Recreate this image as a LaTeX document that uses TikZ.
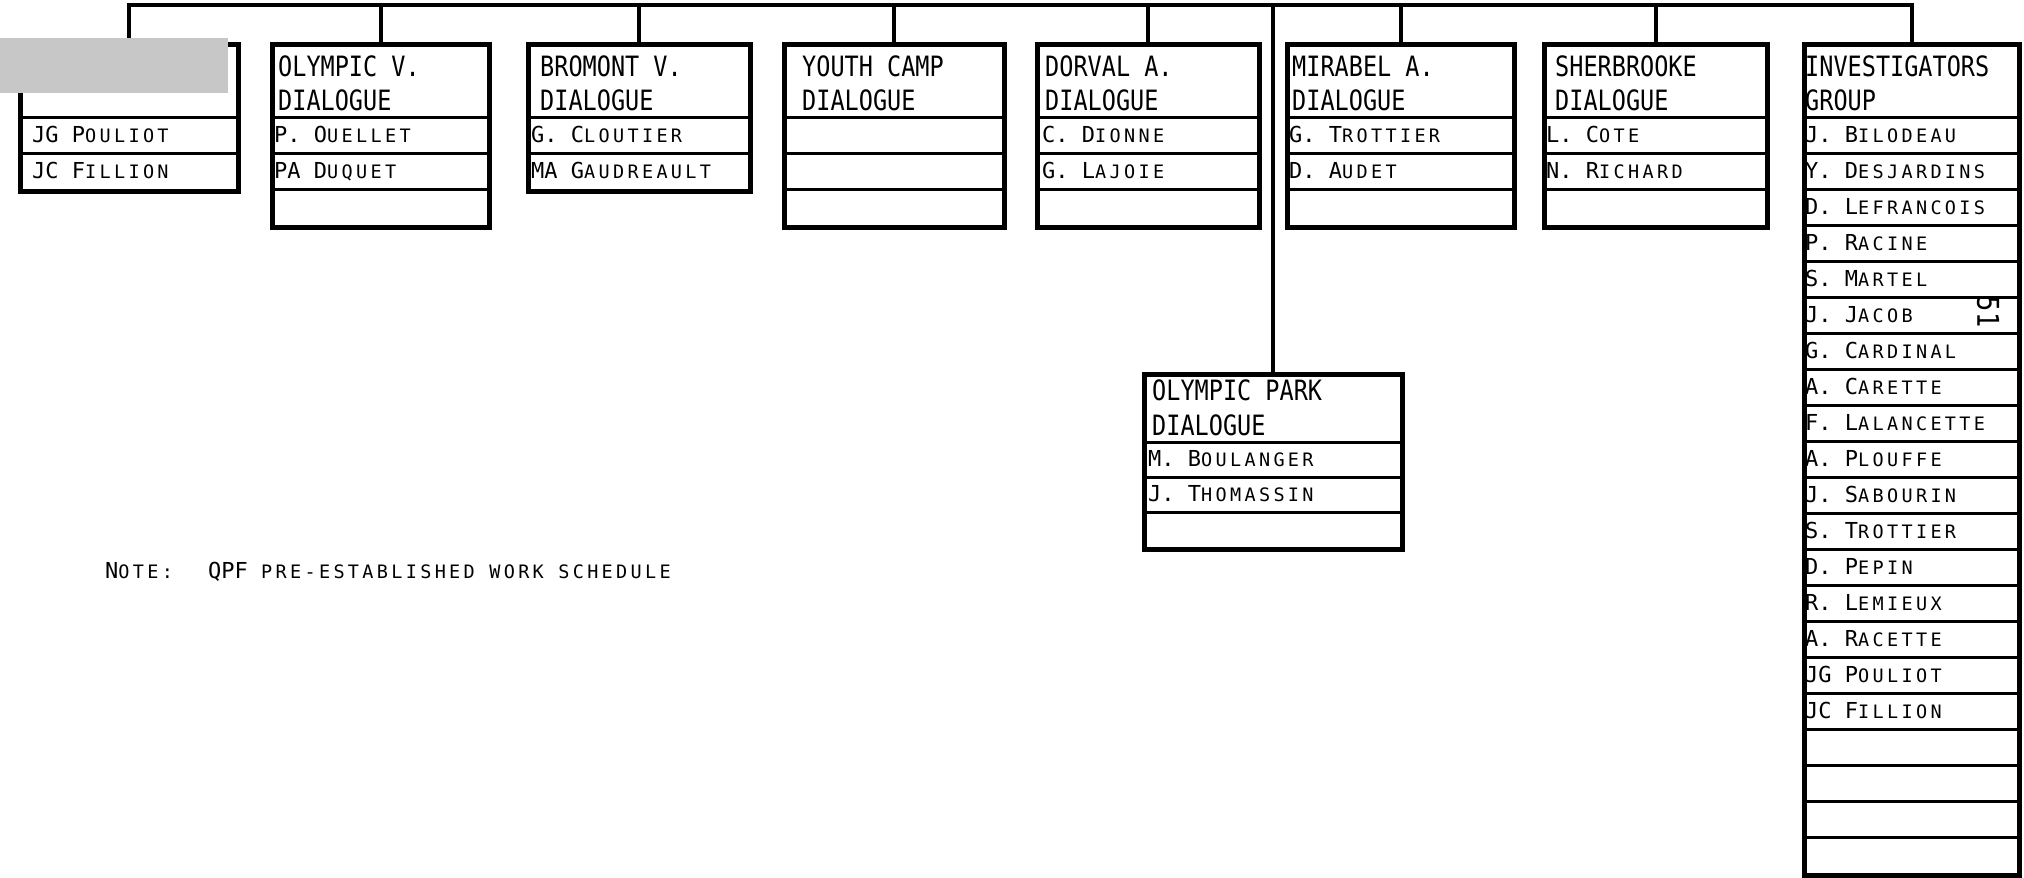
\documentclass[tikz,border=0pt]{standalone}
\usepackage{fontspec}
\usetikzlibrary{calc}
\newfontfamily\hdfont[FakeStretch=0.84]{DejaVu Sans Mono}
\newfontfamily\nmfont{DejaVu Sans Mono}
\newfontfamily\smcapfont[LetterSpace=18]{DejaVu Sans Mono}
\newcommand\pname[2]{{\nmfont\fontsize{22}{26}\selectfont #1}{\smcapfont\fontsize{18.5}{22}\selectfont #2}}
\tikzset{
  unitbox/.style={draw,line width=4.5pt,inner sep=0pt,anchor=north west},
  rowline/.style={line width=3pt},
  link/.style={line width=4pt},
  hdtext/.style={anchor=base west,inner sep=0pt,font=\hdfont\fontsize{28}{34}\selectfont},
  nmtext/.style={anchor=base west,inner sep=0pt},
}

\begin{document}
\begin{tikzpicture}[x=1pt,y=-1pt]
  \useasboundingbox (0,0) rectangle (2024,878);
  % boxes along the top bar
  \foreach \nd/\lx/\bw/\nr in {pouliot/18/218/2,olyv/270/217/3,bromont/526/222/2,youth/782/220/3,dorval/1035/222/3,mirabel/1285/227/3,sherb/1542/223/3,invest/1802/215/21}{
    \node[unitbox,minimum width=\bw pt,minimum height={75pt+\nr*36pt}] (\nd) at (\lx,42) {};
    \foreach \k in {1,...,\nr}
      \draw[rowline] ([yshift={-39pt-\k*36pt}]\nd.north west) -- ([yshift={-39pt-\k*36pt}]\nd.north east);
  }
  % box hanging from the middle
  \node[unitbox,minimum width=258pt,minimum height=175pt] (park) at (1142,372) {};
  \foreach \dy in {70,105,140}
    \draw[rowline] ([yshift=-\dy pt]park.north west) -- ([yshift=-\dy pt]park.north east);
  % connectors
  \coordinate (bar) at (0,5);
  \draw[link] (pouliot.north) -- (pouliot.north |- bar) -- (invest.north |- bar) -- (invest.north);
  \foreach \nd in {olyv,bromont,youth,dorval,mirabel,sherb,park}
    \draw[link] (\nd.north) -- (\nd.north |- bar);
  \fill[black!22] (0,38) rectangle (228,93);
  % headers
  \foreach \nd/\pad/\la/\lb in {olyv/8/OLYMPIC V./DIALOGUE,bromont/14/BROMONT V./DIALOGUE,youth/20/YOUTH CAMP/DIALOGUE,dorval/10/DORVAL A./DIALOGUE,mirabel/7/MIRABEL A./DIALOGUE,sherb/13/SHERBROOKE/DIALOGUE,invest/3/INVESTIGATORS/GROUP}{
    \node[hdtext] (\nd-ha) at ([xshift=\pad pt,yshift=-34pt]\nd.north west) {\la};
    \node[hdtext] (\nd-hb) at ([xshift=\pad pt,yshift=-68pt]\nd.north west) {\lb};
  }
  \node[hdtext] (park-ha) at ([xshift=10pt,yshift=-28pt]park.north west) {OLYMPIC PARK};
  \node[hdtext] (park-hb) at ([xshift=10pt,yshift=-63pt]park.north west) {DIALOGUE};
  % names
  \foreach \nd/\pad/\k/\fa/\fb in {pouliot/14/1/JG P/OULIOT,pouliot/14/2/JC F/ILLION,
      olyv/4/1/P. O/UELLET,olyv/4/2/PA D/UQUET,
      bromont/5/1/G. C/LOUTIER,bromont/5/2/MA G/AUDREAULT,
      dorval/7/1/C. D/IONNE,dorval/7/2/G. L/AJOIE,
      mirabel/4/1/G. T/ROTTIER,mirabel/4/2/D. A/UDET,
      sherb/4/1/L. C/OTE,sherb/4/2/N. R/ICHARD,
      invest/3/1/J. B/ILODEAU,invest/3/2/Y. D/ESJARDINS,invest/3/3/D. L/EFRANCOIS,
      invest/3/4/P. R/ACINE,invest/3/5/S. M/ARTEL,invest/3/6/J. J/ACOB,
      invest/3/7/G. C/ARDINAL,invest/3/8/A. C/ARETTE,invest/3/9/F. L/ALANCETTE,
      invest/3/10/A. P/LOUFFE,invest/3/11/J. S/ABOURIN,invest/3/12/S. T/ROTTIER,
      invest/3/13/D. P/EPIN,invest/3/14/R. L/EMIEUX,invest/3/15/A. R/ACETTE,
      invest/3/16/JG P/OULIOT,invest/3/17/JC F/ILLION}
    \node[nmtext] (\nd-n\k) at ([xshift=\pad pt,yshift={-100pt-(\k-1)*36pt}]\nd.north west) {\pname{\fa}{\fb}};
  \node[nmtext] (park-n1) at ([xshift=6pt,yshift=-94pt]park.north west) {\pname{M. B}{OULANGER}};
  \node[nmtext] (park-n2) at ([xshift=6pt,yshift=-129pt]park.north west) {\pname{J. T}{HOMASSIN}};
  % note and page number
  \node[nmtext] (note) at (105,578) {\pname{N}{OTE:}};
  \node[nmtext] (note-txt) at (208,578) {\pname{QPF }{PRE-ESTABLISHED WORK SCHEDULE}};
  \node[rotate=-90,inner sep=0pt,font=\hdfont\fontsize{30}{30}\selectfont] (pgno) at (1988,312) {51};
\end{tikzpicture}
\end{document}
